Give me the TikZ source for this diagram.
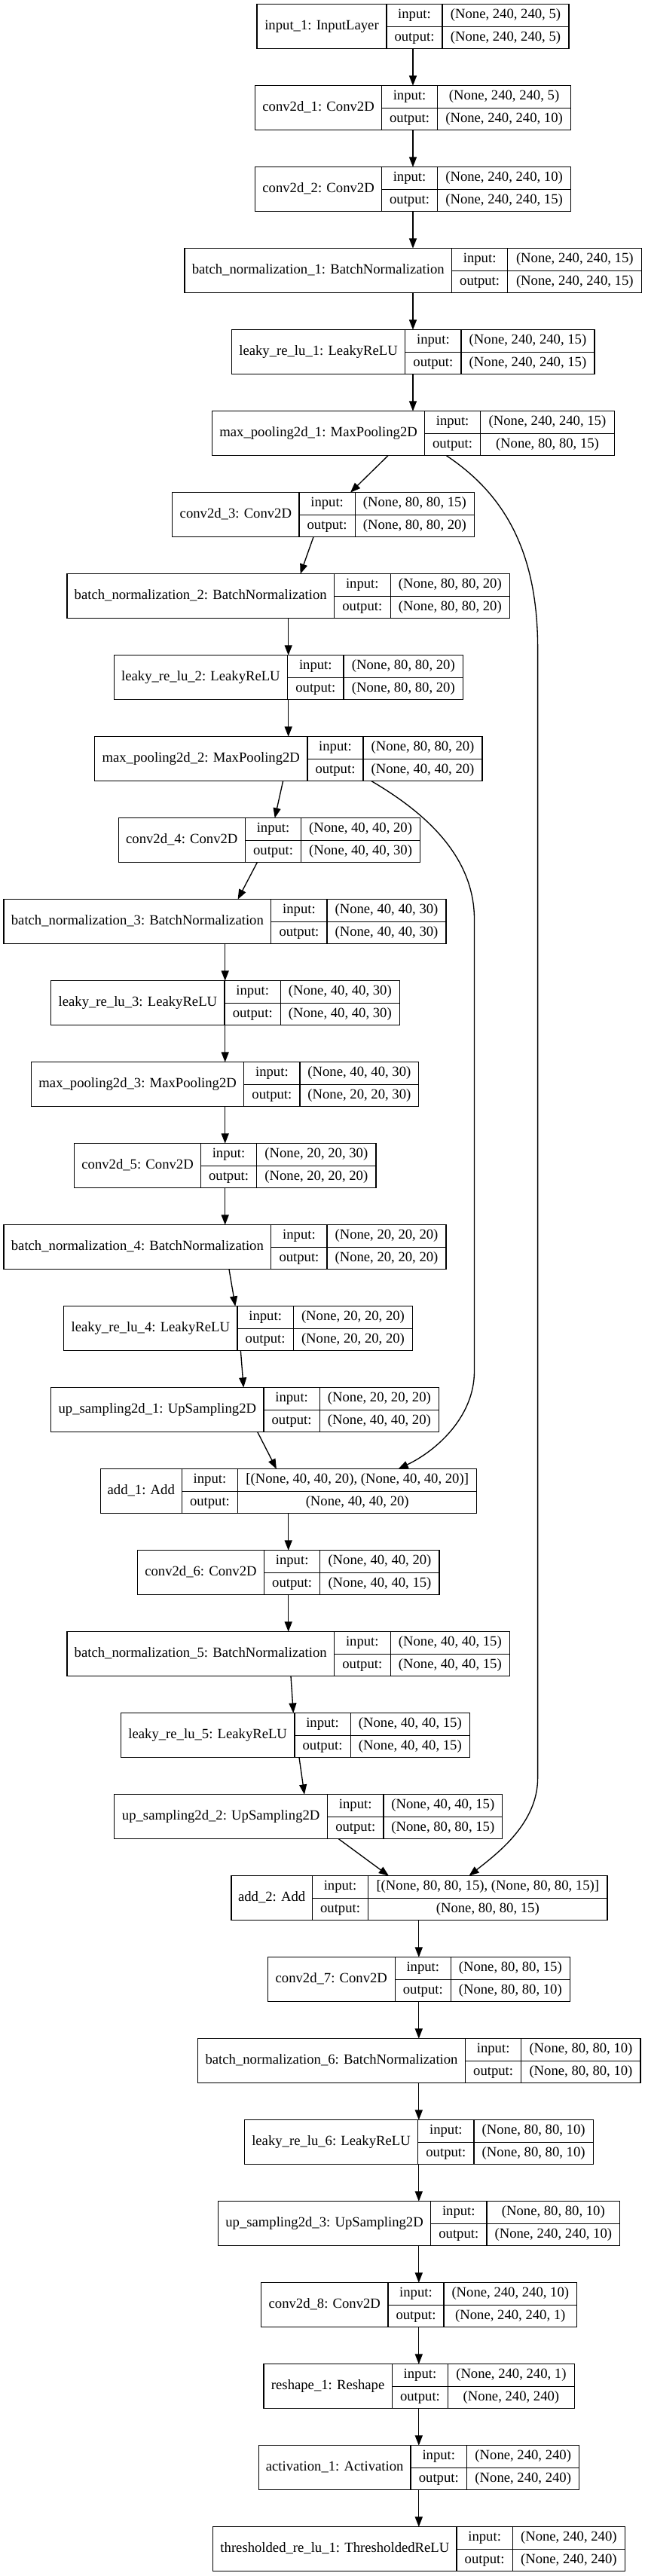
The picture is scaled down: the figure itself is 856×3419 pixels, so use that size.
\documentclass[tikz,border=0pt]{standalone}
\usepackage{fontspec}
\setmainfont{Liberation Serif}
\usetikzlibrary{arrows.meta}
\tikzset{
  layerbox/.style={draw, line width=1.33pt, rectangle, inner sep=0pt, outer sep=0pt, minimum height=59pt},
  celltext/.style={inner sep=0pt, font=\fontsize{18.67}{22}\selectfont, text height=13pt, text depth=4.5pt},
  cellline/.style={line width=1.33pt},
  conn/.style={line width=1.33pt, -{Triangle[length=13.3pt,width=10pt]}},
}
\newcommand\rec[9]{%
  \pgfmathsetmacro\rcT{5.7+108*#2}%
  \pgfmathsetmacro\rcB{\rcT+59}%
  \pgfmathsetmacro\rcM{\rcT+29.5}%
  \pgfmathsetmacro\rcI{\rcT+14.75}%
  \pgfmathsetmacro\rcO{\rcM+14.75}%
  \expandafter\xdef\csname rcx#1\endcsname{#3}%
  \node[layerbox, minimum width={#6-#3}, anchor=north west] (#1) at (#3,\rcT) {};
  \draw[cellline] (#4,\rcT) -- (#4,\rcB) (#5,\rcT) -- (#5,\rcB) (#4,\rcM) -- (#6,\rcM);
  \node[celltext] (#1-l) at ({(#3+#4)/2},\rcM) {#7};
  \node[celltext] (#1-ik) at ({(#4+#5)/2},\rcI) {input:};
  \node[celltext] (#1-ok) at ({(#4+#5)/2},\rcO) {output:};
  \node[celltext] (#1-iv) at ({(#5+#6)/2},\rcI) {#8};
  \node[celltext] (#1-ov) at ({(#5+#6)/2},\rcO) {#9};
}
\newcommand\lnk[4]{\draw[conn] ([xshift={#2-\csname rcx#1\endcsname}]#1.south west) -- ([xshift={#4-\csname rcx#3\endcsname}]#3.north west);}
\begin{document}
\begin{tikzpicture}[x=1pt, y=-1pt]
\useasboundingbox (0,0) rectangle (856,3419);
\rec{inp}{0}{341}{513}{587}{755}{input\_1: InputLayer}{(None, 240, 240, 5)}{(None, 240, 240, 5)}
\rec{c1}{1}{338.5}{506.7}{580.4}{757.8}{conv2d\_1: Conv2D}{(None, 240, 240, 5)}{(None, 240, 240, 10)}
\rec{c2}{2}{338.5}{506.7}{580.4}{757.8}{conv2d\_2: Conv2D}{(None, 240, 240, 10)}{(None, 240, 240, 15)}
\rec{bn1}{3}{245}{599.5}{673.8}{851.8}{batch\_normalization\_1: BatchNormalization}{(None, 240, 240, 15)}{(None, 240, 240, 15)}
\rec{lr1}{4}{307.4}{537.8}{612}{789}{leaky\_re\_lu\_1: LeakyReLU}{(None, 240, 240, 15)}{(None, 240, 240, 15)}
\rec{mp1}{5}{281.7}{563.5}{637.7}{815.2}{max\_pooling2d\_1: MaxPooling2D}{(None, 240, 240, 15)}{(None, 80, 80, 15)}
\rec{c3}{6}{228.8}{397}{471.2}{629.5}{conv2d\_3: Conv2D}{(None, 80, 80, 15)}{(None, 80, 80, 20)}
\rec{bn2}{7}{89}{443.4}{518.2}{676.5}{batch\_normalization\_2: BatchNormalization}{(None, 80, 80, 20)}{(None, 80, 80, 20)}
\rec{lr2}{8}{151.2}{381.7}{455.9}{614.8}{leaky\_re\_lu\_2: LeakyReLU}{(None, 80, 80, 20)}{(None, 80, 80, 20)}
\rec{mp2}{9}{125.6}{407.9}{482.1}{639.9}{max\_pooling2d\_2: MaxPooling2D}{(None, 80, 80, 20)}{(None, 40, 40, 20)}
\rec{c4}{10}{157.2}{325.4}{399.7}{557.5}{conv2d\_4: Conv2D}{(None, 40, 40, 20)}{(None, 40, 40, 30)}
\rec{bn3}{11}{4.9}{359.8}{434.1}{591.9}{batch\_normalization\_3: BatchNormalization}{(None, 40, 40, 30)}{(None, 40, 40, 30)}
\rec{lr3}{12}{67.7}{298.1}{372.4}{530.2}{leaky\_re\_lu\_3: LeakyReLU}{(None, 40, 40, 30)}{(None, 40, 40, 30)}
\rec{mp3}{13}{41.5}{323.8}{398}{555.8}{max\_pooling2d\_3: MaxPooling2D}{(None, 40, 40, 30)}{(None, 20, 20, 30)}
\rec{c5}{14}{98.8}{266.4}{340.7}{499}{conv2d\_5: Conv2D}{(None, 20, 20, 30)}{(None, 20, 20, 20)}
\rec{bn4}{15}{4.9}{359.8}{434.1}{591.9}{batch\_normalization\_4: BatchNormalization}{(None, 20, 20, 20)}{(None, 20, 20, 20)}
\rec{lr4}{16}{84.6}{315}{389.3}{547.6}{leaky\_re\_lu\_4: LeakyReLU}{(None, 20, 20, 20)}{(None, 20, 20, 20)}
\rec{up1}{17}{67.7}{350}{424.2}{582.6}{up\_sampling2d\_1: UpSampling2D}{(None, 20, 20, 20)}{(None, 40, 40, 20)}
\rec{add1}{18}{133.2}{241.3}{315.6}{632.8}{add\_1: Add}{[(None, 40, 40, 20), (None, 40, 40, 20)]}{(None, 40, 40, 20)}
\rec{c6}{19}{182.4}{350.5}{424.8}{583.1}{conv2d\_6: Conv2D}{(None, 40, 40, 20)}{(None, 40, 40, 15)}
\rec{bn5}{20}{89}{443.4}{518.2}{676.5}{batch\_normalization\_5: BatchNormalization}{(None, 40, 40, 15)}{(None, 40, 40, 15)}
\rec{lr5}{21}{160.5}{390.9}{465.2}{623.5}{leaky\_re\_lu\_5: LeakyReLU}{(None, 40, 40, 15)}{(None, 40, 40, 15)}
\rec{up2}{22}{151.8}{434.6}{508.9}{666.7}{up\_sampling2d\_2: UpSampling2D}{(None, 40, 40, 15)}{(None, 80, 80, 15)}
\rec{add2}{23}{306.9}{414.4}{488.7}{805.9}{add\_2: Add}{[(None, 80, 80, 15), (None, 80, 80, 15)]}{(None, 80, 80, 15)}
\rec{c7}{24}{355.4}{524.2}{598.4}{756.2}{conv2d\_7: Conv2D}{(None, 80, 80, 15)}{(None, 80, 80, 10)}
\rec{bn6}{25}{262.6}{617.5}{691.8}{850.1}{batch\_normalization\_6: BatchNormalization}{(None, 80, 80, 10)}{(None, 80, 80, 10)}
\rec{lr6}{26}{324.3}{554.7}{629}{787.3}{leaky\_re\_lu\_6: LeakyReLU}{(None, 80, 80, 10)}{(None, 80, 80, 10)}
\rec{up3}{27}{289.4}{571.7}{645.9}{822.8}{up\_sampling2d\_3: UpSampling2D}{(None, 80, 80, 10)}{(None, 240, 240, 10)}
\rec{c8}{28}{346.7}{514.9}{589.1}{765.5}{conv2d\_8: Conv2D}{(None, 240, 240, 10)}{(None, 240, 240, 1)}
\rec{rs}{29}{350}{520.3}{594.6}{762.2}{reshape\_1: Reshape}{(None, 240, 240, 1)}{(None, 240, 240)}
\rec{act}{30}{343.4}{544.9}{619.7}{768.8}{activation\_1: Activation}{(None, 240, 240)}{(None, 240, 240)}
\rec{thr}{31}{282.8}{606}{680.3}{829.4}{thresholded\_re\_lu\_1: ThresholdedReLU}{(None, 240, 240)}{(None, 240, 240)}
% connectors
\lnk{inp}{548}{c1}{548}
\lnk{c1}{548}{c2}{548}
\lnk{c2}{548}{bn1}{548}
\lnk{bn1}{548}{lr1}{548}
\lnk{lr1}{548}{mp1}{548}
\lnk{mp1}{515}{c3}{465}
\lnk{c3}{416}{bn2}{398.6}
\lnk{bn2}{382.7}{lr2}{382.7}
\lnk{lr2}{382.7}{mp2}{382.7}
\lnk{mp2}{375.6}{c4}{364.7}
\lnk{c4}{341.3}{bn3}{315.6}
\lnk{bn3}{298.7}{lr3}{298.7}
\lnk{lr3}{298.7}{mp3}{298.7}
\lnk{mp3}{298.7}{c5}{298.7}
\lnk{c5}{298.7}{bn4}{298.7}
\lnk{bn4}{304}{lr4}{312.3}
\lnk{lr4}{319.4}{up1}{323.2}
\lnk{up1}{341.8}{add1}{366.9}
\lnk{add1}{382.7}{c6}{382.7}
\lnk{c6}{382.7}{bn5}{382.7}
\lnk{bn5}{386}{lr5}{389.3}
\lnk{lr5}{397}{up2}{404}
\lnk{up2}{449.4}{add2}{516}
\lnk{add2}{555.8}{c7}{555.8}
\lnk{c7}{555.8}{bn6}{555.8}
\lnk{bn6}{555.8}{lr6}{555.8}
\lnk{lr6}{555.8}{up3}{555.8}
\lnk{up3}{555.8}{c8}{555.8}
\lnk{c8}{555.8}{rs}{555.8}
\lnk{rs}{555.8}{act}{555.8}
\lnk{act}{555.8}{thr}{555.8}
% skip connections
\draw[conn] ([xshift={592.4-281.7}]mp1.south west) .. controls (660,650) and (713.6,720) .. (713.6,860) -- (713.6,2360) .. controls (713.6,2420) and (660,2460) .. ([xshift={622.4-306.9}]add2.north west);
\draw[conn] ([xshift={493-125.6}]mp2.south west) .. controls (553,1072) and (629.5,1130) .. (629.5,1220) -- (629.5,1820) .. controls (629.5,1880) and (580,1925) .. ([xshift={528.5-133.2}]add1.north west);
\end{tikzpicture}
\end{document}
